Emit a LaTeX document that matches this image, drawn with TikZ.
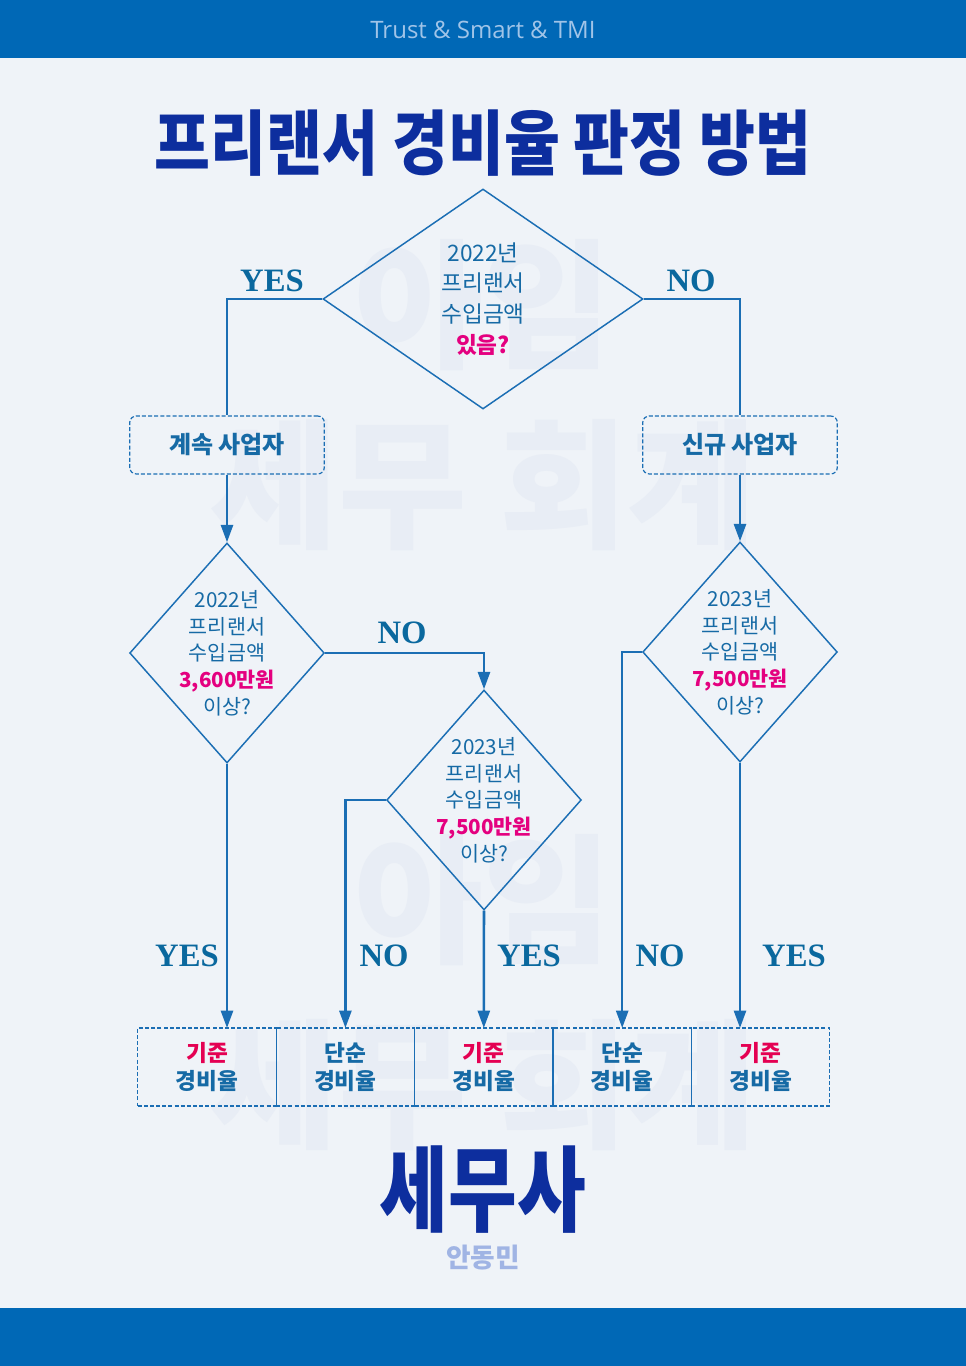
\documentclass[tikz,border=0pt]{standalone}
\usepackage{fontspec}
\usepackage{graphicx}
\setmainfont{Noto Sans CJK KR}
\newfontfamily\ynfont{Liberation Serif}
\newfontfamily\headfont{Open Sans}
\usetikzlibrary{positioning,shapes.geometric,arrows.meta}
\definecolor{barblue}{RGB}{0,104,182}
\definecolor{bgc}{RGB}{239,243,248}
\definecolor{wmc}{RGB}{232,237,245}
\definecolor{titlec}{RGB}{13,46,158}
\definecolor{headc}{RGB}{160,196,232}
\definecolor{linec}{RGB}{27,110,180}
\definecolor{txtc}{RGB}{22,106,165}
\definecolor{ync}{RGB}{10,104,158}
\definecolor{hotpink}{RGB}{228,0,127}
\definecolor{hotred}{RGB}{228,0,82}
\definecolor{namec}{RGB}{160,180,228}
\newcommand\pinkword[1]{{\color{hotpink}\bfseries #1}}
\newcommand\redword[1]{{\color{hotred}#1}}
\begin{document}
\begin{tikzpicture}
    [x=0.75pt, y=-0.75pt,
    link/.style={draw=linec, line width=1.9pt},
    arr/.style={link, -{Triangle[width=9pt, length=13pt]}},
    diam/.style={draw=linec, line width=1.1pt, diamond, inner sep=0pt},
    qtext/.style={align=center, text=txtc, font=\fontsize{15.5}{20}\selectfont},
    yn/.style={text=ync, font=\ynfont\bfseries\fontsize{24.5}{24.5}\selectfont},
    kind/.style={draw=linec, line width=0.9pt, dash pattern=on 3pt off 1.6pt,
        rounded corners=5pt, minimum width=146pt, minimum height=43.5pt,
        text=txtc, font=\bfseries\fontsize{18}{20}\selectfont},
    res/.style={draw=linec, line width=0.8pt, dash pattern=on 3pt off 1.6pt,
        minimum width=103.8pt, minimum height=58.5pt, inner sep=0pt, outer sep=0pt,
        align=center, text=txtc, font=\bfseries\fontsize{17}{21}\selectfont},
    wmark/.style={text=wmc, font=\bfseries\fontsize{105}{105}\selectfont}]
    % page
    \fill[bgc] (0, 0) rectangle (966, 1366);
    \fill[barblue] (0, 0) rectangle (966, 58);
    \fill[barblue] (0, 1308) rectangle (966, 1366);
    \node[text=headc, font=\headfont\fontsize{18}{18}\selectfont] (head) at (483, 30) {Trust \& Smart \& TMI};
    % watermark
    \node[wmark] (w1) at (483, 305) {아임};
    \node[wmark] (w2) at (483, 485) {세무 회계};
    \node[wmark] (w3) at (483, 900) {아임};
    \node[wmark] (w4) at (483, 1085) {세무 회계};
    \node[text=titlec, font=\bfseries\fontsize{53}{53}\selectfont] (title) at (483, 143) {\scalebox{0.86}[1]{프리랜서 경비율 판정 방법}};
    % questions
    \node[diam, minimum width=240pt, minimum height=165pt] (d1) at (483, 299) {};
    \node[diam, minimum width=146pt, minimum height=165pt] (d2) at (227, 653) {};
    \node[diam, minimum width=146pt, minimum height=165pt] (d3) at (484, 800) {};
    \node[diam, minimum width=146pt, minimum height=165pt] (d4) at (740, 652) {};
    \node[qtext, font=\fontsize{17}{23}\selectfont] (q1) at (d1) {2022년\\프리랜서\\수입금액\\\pinkword{있음?}};
    \node[qtext] (q2) at (d2) {2022년\\프리랜서\\수입금액\\\pinkword{3,600만원}\\이상?};
    \node[qtext] (q3) at (d3) {2023년\\프리랜서\\수입금액\\\pinkword{7,500만원}\\이상?};
    \node[qtext] (q4) at (d4) {2023년\\프리랜서\\수입금액\\\pinkword{7,500만원}\\이상?};
    \node[kind] (b1) at (227, 445) {계속 사업자};
    \node[kind] (b2) at (740, 445) {신규 사업자};
    % results
    \node[res] (r1) at (207, 1067) {\redword{기준}\\경비율};
    \node[res, right=0pt of r1] (r2) {단순\\경비율};
    \node[res, right=0pt of r2] (r3) {\redword{기준}\\경비율};
    \node[res, right=0pt of r3] (r4) {단순\\경비율};
    \node[res, right=0pt of r4] (r5) {\redword{기준}\\경비율};
    \draw[link] (d1.west) -| (b1.north); \draw[link] (d1.east) -| (b2.north);
    \draw[arr] (b1.south) -- (d2.north); \draw[arr] (b2.south) -- (d4.north);
    \draw[arr] (d2.east) -| (d3.north);
    \draw[arr] (d2.south) -- (d2.south |- r1.north);
    \draw[arr] (d3.west) -| (r2.north); \draw[arr] (d3.south) -- (r3.north);
    \draw[arr] (d4.west) -| (r4.north);
    \draw[arr] (d4.south) -- (d4.south |- r5.north);
    \node[yn] (y1) at (272, 281) {YES};
    \node[yn] (n1) at (691, 281) {NO};
    \node[yn] (n2) at (402, 633) {NO};
    \node[yn] (y2) at (187, 956) {YES};
    \node[yn] (n3) at (384, 956) {NO};
    \node[yn] (y3) at (529, 956) {YES};
    \node[yn] (n4) at (660, 956) {NO};
    \node[yn] (y4) at (794, 956) {YES};
    % signature
    \node[text=titlec, font=\bfseries\fontsize{70}{70}\selectfont] (tax) at (483, 1190) {\scalebox{0.8}[1]{세무사}};
    \node[text=namec, font=\bfseries\fontsize{20}{20}\selectfont] (name) at (483, 1258) {안동민};
\end{tikzpicture}
\end{document}
